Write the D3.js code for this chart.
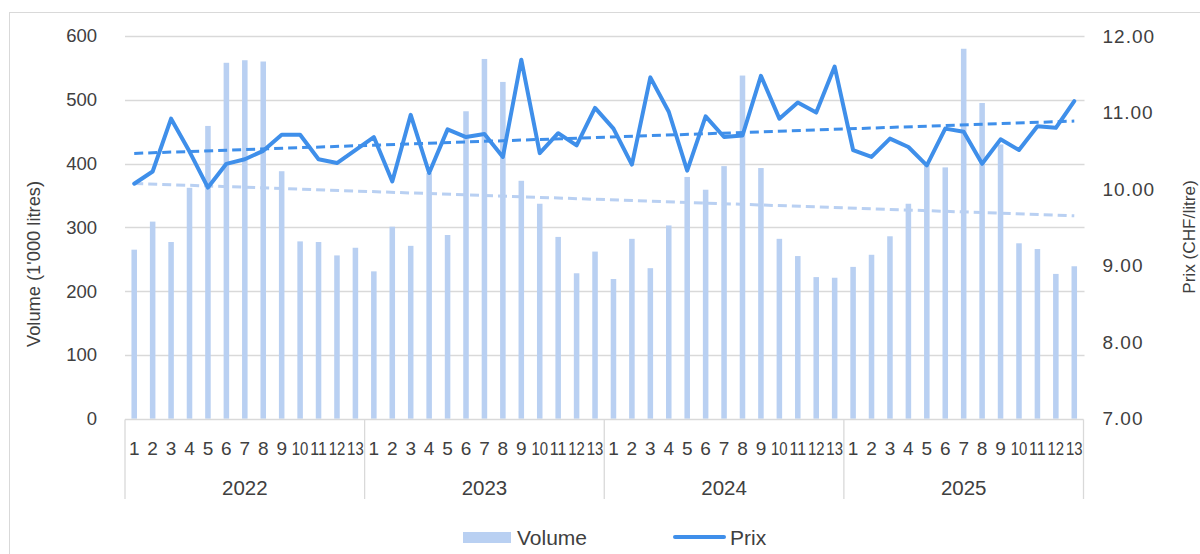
<!DOCTYPE html>
<html>
<head>
<meta charset="utf-8">
<script src="https://cdn.jsdelivr.net/npm/d3@7"></script>
<style>
  html, body { margin: 0; padding: 0; background: #fff; }
  svg { display: block; font-family: "Liberation Sans", Arial, sans-serif; }
</style>
</head>
<body>
<svg id="chart" width="1200" height="554"></svg>
<script>
const years = ["2022", "2023", "2024", "2025"];
const periods = ["1","2","3","4","5","6","7","8","9","10","11","12","13"];
const volume2022 = [265, 309, 277, 362, 459, 558, 562, 560, 388, 278, 277, 256, 268];
const volume2023 = [231, 301, 271, 385, 288, 482, 564, 528, 373, 337, 285, 228, 262];
const volume2024 = [219, 282, 236, 303, 379, 359, 396, 538, 393, 282, 255, 222, 221];
const volume2025 = [238, 257, 286, 337, 400, 394, 580, 495, 430, 275, 266, 227, 239];
const prix2022 = [10.07, 10.23, 10.92, 10.49, 10.02, 10.33, 10.39, 10.50, 10.71, 10.71, 10.39, 10.34, 10.51];
const prix2023 = [10.68, 10.10, 10.97, 10.21, 10.78, 10.68, 10.72, 10.42, 11.69, 10.47, 10.73, 10.57, 11.06];
const prix2024 = [10.79, 10.32, 11.46, 11.01, 10.24, 10.95, 10.68, 10.70, 11.48, 10.92, 11.13, 11.00, 11.60];
const prix2025 = [10.51, 10.42, 10.66, 10.55, 10.31, 10.79, 10.75, 10.33, 10.65, 10.51, 10.82, 10.80, 11.15];
const volumeTicks = [0, 100, 200, 300, 400, 500, 600];
const prixTicks = [7, 8, 9, 10, 11, 12];

(function () {
const volumes = [volume2022, volume2023, volume2024, volume2025];
const prices = [prix2022, prix2023, prix2024, prix2025];
const data = [];
years.forEach((y, yi) => periods.forEach((p, pi) => {
  data.push({ key: y + "-" + p, year: y, period: p, volume: volumes[yi][pi], prix: prices[yi][pi] });
}));

const svg = d3.select("#chart");
const mLeft = 125, mRight = 1083.5, mTop = 36, mBottom = 418.7;
const textColor = "#404040";
const gridColor = "#d9d9d9";
const barColor = "#b9d0f2";
const lineColor = "#3f8fea";
const FONT = "Liberation Sans, Arial, sans-serif";

svg.append("rect").attr("x", 9.5).attr("y", 12.5).attr("width", 1300).attr("height", 700)
  .attr("fill", "none").attr("stroke", gridColor).attr("stroke-width", 1);

const x = d3.scaleBand().domain(data.map(d => d.key)).range([mLeft, mRight]).paddingInner(0.7).paddingOuter(0.35);
const yV = d3.scaleLinear().domain([0, 600]).range([mBottom, mTop]);
const yP = d3.scaleLinear().domain([7, 12]).range([mBottom, mTop]);
const cx = d => x(d.key) + x.bandwidth() / 2;

svg.append("g").selectAll("line").data(volumeTicks.slice(1)).join("line")
  .attr("x1", mLeft).attr("x2", mRight + 1)
  .attr("y1", d => Math.round(yV(d)) + 0.5).attr("y2", d => Math.round(yV(d)) + 0.5)
  .attr("stroke", gridColor).attr("stroke-width", 1.3);

const axL = svg.append("g").attr("transform", `translate(${mLeft},0)`)
  .call(d3.axisLeft(yV).tickValues(volumeTicks).tickSize(0).tickPadding(28).tickFormat(d3.format("d")));
axL.select(".domain").remove();
axL.selectAll("text").attr("fill", textColor).attr("font-size", 18.5).attr("font-family", FONT);

const axR = svg.append("g").attr("transform", `translate(${mRight},0)`)
  .call(d3.axisRight(yP).tickValues(prixTicks).tickSize(0).tickPadding(19).tickFormat(d3.format(".2f")));
axR.select(".domain").remove();
axR.selectAll("text").attr("fill", textColor).attr("font-size", 19).attr("letter-spacing", 1)
  .attr("font-family", FONT);

svg.append("text").attr("transform", "translate(40,264) rotate(-90)")
  .attr("text-anchor", "middle").attr("fill", textColor).attr("font-size", 18.3)
  .text("Volume (1'000 litres)");
svg.append("text").attr("transform", "translate(1195,237) rotate(-90)")
  .attr("text-anchor", "middle").attr("fill", textColor).attr("font-size", 17.2)
  .text("Prix (CHF/litre)");

svg.append("g").selectAll("rect").data(data).join("rect")
  .attr("x", d => x(d.key)).attr("width", x.bandwidth())
  .attr("y", d => yV(d.volume)).attr("height", d => yV(0) - yV(d.volume))
  .attr("fill", barColor);

const catAxisY = Math.round(mBottom) + 0.5;
svg.append("line").attr("x1", mLeft).attr("x2", mRight).attr("y1", catAxisY).attr("y2", catAxisY)
  .attr("stroke", gridColor).attr("stroke-width", 1.3);
const yearStep = (mRight - mLeft) / years.length;
const sepX = d3.range(years.length + 1).map(i => mLeft + i * yearStep);
svg.append("g").selectAll("line").data(sepX).join("line")
  .attr("x1", d => d).attr("x2", d => d).attr("y1", catAxisY).attr("y2", 499)
  .attr("stroke", gridColor).attr("stroke-width", 1.3);
const catLabels = svg.append("g").selectAll("text").data(data).join("text")
  .attr("x", d => cx(d)).attr("y", 454.5).attr("text-anchor", "middle")
  .attr("fill", textColor).attr("font-size", 19).text(d => d.period);
catLabels.filter(d => d.period.length > 1)
  .attr("textLength", 16.6).attr("lengthAdjust", "spacingAndGlyphs");
svg.append("g").selectAll("text").data(years).join("text")
  .attr("x", (d, i) => mLeft + (i + 0.5) * yearStep).attr("y", 494.5).attr("text-anchor", "middle")
  .attr("fill", textColor).attr("font-size", 20.5).text(d => d);

function trend(acc) {
  const n = data.length;
  const xs = d3.range(n), ys = data.map(acc);
  const mx = d3.mean(xs), my = d3.mean(ys);
  const b = d3.sum(xs.map((v, i) => (v - mx) * (ys[i] - my))) / d3.sum(xs.map(v => (v - mx) ** 2));
  const a = my - b * mx;
  return [a, a + b * (n - 1)];
}
const tV = trend(d => d.volume);
const tP = trend(d => d.prix);
svg.append("line")
  .attr("x1", cx(data[0])).attr("x2", cx(data[data.length - 1]))
  .attr("y1", yV(tV[0])).attr("y2", yV(tV[1]))
  .attr("stroke", barColor).attr("stroke-width", 3).attr("stroke-dasharray", "9,5");

svg.append("path").datum(data)
  .attr("d", d3.line().x(d => cx(d)).y(d => yP(d.prix)))
  .attr("fill", "none").attr("stroke", lineColor).attr("stroke-width", 4)
  .attr("stroke-linejoin", "round").attr("stroke-linecap", "round");

svg.append("line")
  .attr("x1", cx(data[0])).attr("x2", cx(data[data.length - 1]))
  .attr("y1", yP(tP[0])).attr("y2", yP(tP[1]))
  .attr("stroke", lineColor).attr("stroke-width", 3).attr("stroke-dasharray", "9,5");

svg.append("rect").attr("x", 463).attr("y", 532).attr("width", 48).attr("height", 11).attr("fill", barColor);
svg.append("text").attr("x", 517).attr("y", 544.5).attr("fill", textColor).attr("font-size", 21).text("Volume");
svg.append("line").attr("x1", 675).attr("x2", 724).attr("y1", 537).attr("y2", 537)
  .attr("stroke", lineColor).attr("stroke-width", 4).attr("stroke-linecap", "round");
svg.append("text").attr("x", 730).attr("y", 544.5).attr("fill", textColor).attr("font-size", 21).text("Prix");
})();
</script>
</body>
</html>
